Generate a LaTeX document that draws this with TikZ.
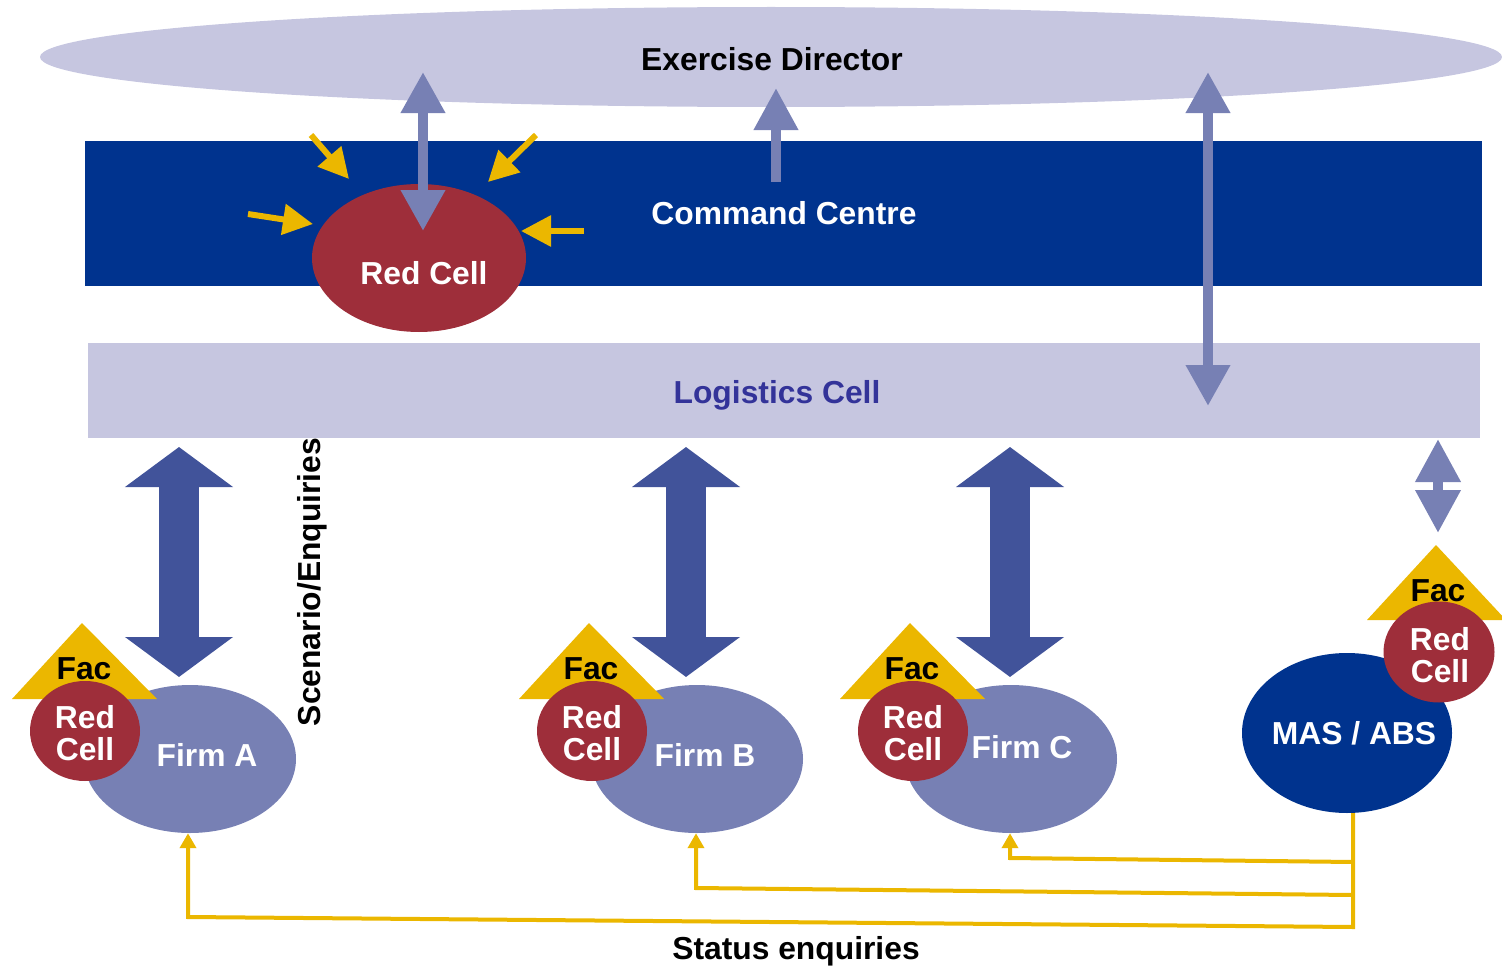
\documentclass[tikz,border=0pt]{standalone}
\usepackage{fontspec}
\setmainfont{Liberation Sans}
\usetikzlibrary{arrows.meta,shapes.geometric}
\definecolor{lav}{RGB}{198,198,224}
\definecolor{ccblue}{RGB}{0,51,142}
\definecolor{redc}{RGB}{158,46,58}
\definecolor{arrl}{RGB}{119,128,180}
\definecolor{bigb}{RGB}{65,83,154}
\definecolor{firmc}{RGB}{119,128,180}
\definecolor{yel}{RGB}{235,183,0}
\definecolor{logtext}{RGB}{51,51,153}
% #1 name, #2 firm ellipse x, #3 label, #4 label x, #5 label y, #6 Fac apex x
\newcommand{\firmgroup}[6]{%
  \node[ell, fill=firmc, minimum width=212pt, minimum height=148pt] (#1) at (#2,759) {};
  \fill[yel] (#6-70,699) -- (#6,623) -- (#6+75,699) -- cycle;
  \node[txt] (#1fac) at (#6+2,668) {Fac};
  \node[ell, fill=redc, minimum width=110pt, minimum height=100pt] (#1rc) at (#6+3,731) {};
  \node[txttwo, white] (#1rct) at (#6+3,733) {Red\\Cell};
  \node[txt, white] (#1t) at (#4,#5) {#3};
}
\begin{document}
\begin{tikzpicture}[x=1pt,y=-1pt,
  txt/.style={font=\fontsize{31.8}{32}\selectfont\bfseries, inner sep=0pt, text height=23pt, text depth=0pt},
  txttwo/.style={font=\fontsize{31.8}{32}\selectfont\bfseries, inner sep=0pt, align=center},
  ell/.style={ellipse, inner sep=0pt},
  yarr/.style={draw=yel, line width=6pt, -{Triangle[width=30pt,length=30pt]}},
  larr/.style={draw=arrl, line width=10pt, arrows={Triangle[width=42pt,length=41pt]-Triangle[width=42pt,length=41pt]}},
  lsarr/.style={draw=arrl, line width=10pt, arrows={-Triangle[width=42pt,length=42pt]}},
  barr/.style={draw=bigb, line width=40pt, arrows={Triangle[width=106pt,length=40pt]-Triangle[width=106pt,length=40pt]}},
  sarr/.style={draw=yel, line width=4pt, line join=miter, -{Triangle[width=16pt,length=15pt]}}]
\useasboundingbox (0,0) rectangle (1502,966);
\begin{scope}
\clip (0,0) rectangle (1502,966);
% Exercise Director
\node[ell, fill=lav, minimum width=1462pt, minimum height=100pt] (ed) at (771,57) {};
\node[txt] (edt) at (772,59) {Exercise Director};
% Command Centre
\node[fill=ccblue, minimum width=1397pt, minimum height=145pt, inner sep=0pt] (cc) at (783.5,213.5) {};
\node[txt, white] (cct) at (784,213) {Command Centre};
% Logistics Cell
\node[fill=lav, minimum width=1392pt, minimum height=95pt, inner sep=0pt] (lc) at (784,390.5) {};
\node[txt, text=logtext] (lct) at (777,392) {Logistics Cell};
% Red Cell (top)
\node[ell, fill=redc, minimum width=214pt, minimum height=148pt] (rc) at (419,258) {};
\node[txt, white] (rct) at (424,273) {Red Cell};
% yellow arrows into red cell
\coordinate (y1s) at (311,135); \coordinate (y1e) at (349,179);
\coordinate (y2s) at (536,135); \coordinate (y2e) at (488,182);
\coordinate (y3s) at (248,214); \coordinate (y3e) at (313,224);
\coordinate (y4s) at (584,231); \coordinate (y4e) at (521,231);
\draw[yarr] (y1s) -- (y1e);
\draw[yarr] (y2s) -- (y2e);
\draw[yarr] (y3s) -- (y3e);
\draw[yarr] (y4s) -- (y4e);
% lavender arrows
\coordinate (a1t) at (423,72); \coordinate (a1b) at (423,231);
\draw[larr] (a1t) -- (a1b);
\coordinate (a2b) at (776,182); \coordinate (a2t) at (776,88);
\draw[lsarr] (a2b) -- (a2t);
\coordinate (a3t) at (1208,72); \coordinate (a3b) at (1208,406);
\draw[larr] (a3t) -- (a3b);
\coordinate (a4t) at (1438,439); \coordinate (a4b) at (1438,533);
\draw[larr, arrows={Triangle[width=43pt,length=43pt]-Triangle[width=43pt,length=43pt]}] (a4t) -- (a4b);
% big arrows
\coordinate (bAt) at (179,447); \coordinate (bAb) at (179,677);
\coordinate (bBt) at (686,447); \coordinate (bBb) at (686,677);
\coordinate (bCt) at (1010,447); \coordinate (bCb) at (1010,677);
\draw[barr] (bAt) -- (bAb);
\draw[barr] (bBt) -- (bBb);
\draw[barr] (bCt) -- (bCb);
% Scenario text
\node[txt, rotate=90] (scen) at (309,582) {Scenario/Enquiries};
% firms
\firmgroup{firmA}{190}{Firm A}{207}{755}{82}
\firmgroup{firmB}{697}{Firm B}{705}{755}{589}
\firmgroup{firmC}{1011}{Firm C}{1022}{747}{910}
% MAS / ABS
\node[ell, fill=ccblue, minimum width=210pt, minimum height=160pt] (mas) at (1347,733) {};
\node[txt, white] (mast) at (1354,733) {MAS / ABS};
\fill[yel] (1367,620) -- (1436,545) -- (1506,620) -- cycle;
\node[txt] (masfac) at (1438,590) {Fac};
\node[ell, fill=redc, minimum width=111pt, minimum height=101pt] (masrc) at (1439,652) {};
\node[txttwo, white] (masrct) at (1440,655) {Red\\Cell};
% status enquiries
\coordinate (sA1) at (1353,927); \coordinate (sA2) at (188,917);
\coordinate (sB1) at (1353,895); \coordinate (sB2) at (696,888);
\coordinate (sC1) at (1353,862); \coordinate (sC2) at (1010,858);
\draw[sarr] (sA1 |- mas.south) -- (sA1) -- (sA2) -- (sA2 |- firmA.south);
\draw[sarr] (sB1) -- (sB2) -- (sB2 |- firmB.south);
\draw[sarr] (sC1) -- (sC2) -- (sC2 |- firmC.south);
\node[txt] (stat) at (796,948) {Status enquiries};
\end{scope}
\end{tikzpicture}
\end{document}
